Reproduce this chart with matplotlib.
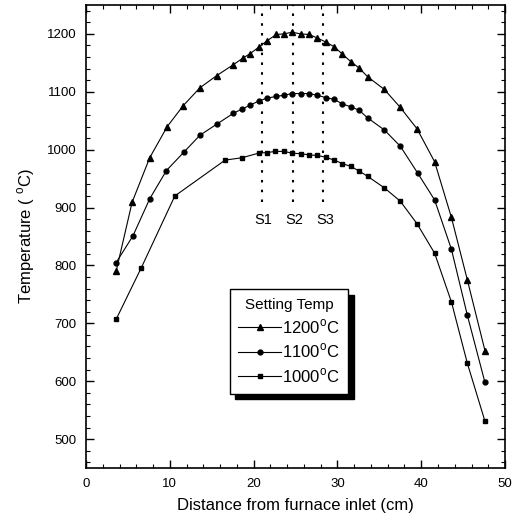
import matplotlib
matplotlib.use("Agg")
import matplotlib.pyplot as plt
from matplotlib.ticker import MultipleLocator

plt.rcParams['font.family'] = ['Liberation Sans', 'DejaVu Sans']

x1200 = [3.6, 5.5, 7.6, 9.7, 11.6, 13.6, 15.6, 17.6, 18.7, 19.6, 20.7, 21.6, 22.7, 23.6,
         24.6, 25.6, 26.6, 27.6, 28.6, 29.6, 30.6, 31.6, 32.6, 33.6, 35.6, 37.5, 39.5,
         41.6, 43.6, 45.5, 47.6]
t1200 = [790, 909, 986, 1040, 1076, 1107, 1128, 1147, 1158, 1166, 1178, 1188, 1199, 1200,
         1203, 1200, 1199, 1193, 1186, 1178, 1165, 1152, 1141, 1126, 1104, 1073, 1036,
         979, 883, 775, 653]

x1100 = [3.6, 5.6, 7.6, 9.6, 11.7, 13.6, 15.6, 17.6, 18.6, 19.6, 20.6, 21.6, 22.7, 23.6,
         24.6, 25.6, 26.6, 27.6, 28.6, 29.6, 30.6, 31.6, 32.6, 33.6, 35.6, 37.5, 39.6,
         41.6, 43.6, 45.5, 47.6]
t1100 = [805, 851, 915, 964, 996, 1025, 1044, 1063, 1070, 1077, 1084, 1089, 1092, 1094,
         1097, 1097, 1097, 1094, 1090, 1087, 1079, 1074, 1068, 1055, 1034, 1006, 959,
         913, 828, 714, 598]

x1000 = [3.6, 6.6, 10.6, 16.6, 18.6, 20.6, 21.6, 22.6, 23.6, 24.6, 25.6, 26.6, 27.6,
         28.6, 29.6, 30.6, 31.6, 32.6, 33.6, 35.6, 37.5, 39.5, 41.6, 43.6, 45.5, 47.6]
t1000 = [707, 796, 920, 982, 986, 994, 995, 997, 997, 994, 993, 991, 990,
         987, 982, 976, 971, 963, 954, 934, 911, 872, 821, 737, 631, 531]

zone_x = [21.0, 24.7, 28.3]
zone_labels = ["S1", "S2", "S3"]
zone_bottom = 910
zone_label_y = 878

legend_labels = ["1200$^{\\mathregular{o}}$C", "1100$^{\\mathregular{o}}$C", "1000$^{\\mathregular{o}}$C"]

fig = plt.figure(figsize=(5.18, 5.28), dpi=100)
ax = fig.add_axes([0.166, 0.1136, 0.809, 0.877])

ax.plot(x1200, t1200, '-^', color='black', lw=0.8, ms=3.8, label=legend_labels[0])
ax.plot(x1100, t1100, '-o', color='black', lw=0.8, ms=3.5, label=legend_labels[1])
ax.plot(x1000, t1000, '-s', color='black', lw=0.8, ms=3.3, label=legend_labels[2])

for zx, zl in zip(zone_x, zone_labels):
    ax.plot([zx, zx], [zone_bottom, 1250], color='black', lw=1.5, ls=(0, (1.2, 3.5)))
    ax.text(zx + 0.2, zone_label_y, zl, ha='center', va='center', fontsize=10.5)

ax.set_xlim(0, 50)
ax.set_ylim(450, 1250)
ax.xaxis.set_major_locator(MultipleLocator(10))
ax.xaxis.set_minor_locator(MultipleLocator(2))
ax.yaxis.set_major_locator(MultipleLocator(100))
ax.yaxis.set_minor_locator(MultipleLocator(20))
ax.tick_params(which='both', direction='in', top=True, right=True, labelsize=9.5)
ax.tick_params(which='major', length=6, width=1, pad=7)
ax.tick_params(which='minor', length=3, width=0.8)
for s in ax.spines.values():
    s.set_linewidth(1.2)

ax.set_xlabel("Distance from furnace inlet (cm)", fontsize=12, labelpad=6)
ax.set_ylabel("Temperature ( $^{\\mathregular{o}}$C)", fontsize=12, labelpad=7)

leg = ax.legend(title="Setting Temp", loc='upper center', bbox_to_anchor=(0.484, 0.404),
                fontsize=12, title_fontsize=11, frameon=True, fancybox=False,
                edgecolor='black', handlelength=2.6, handletextpad=0.05,
                borderpad=0.5, labelspacing=0.35,
                shadow={'ox': 4, 'oy': -4, 'color': 'black', 'alpha': 1})
leg.get_frame().set_linewidth(1.0)

fig.savefig("out.png", dpi=100)
